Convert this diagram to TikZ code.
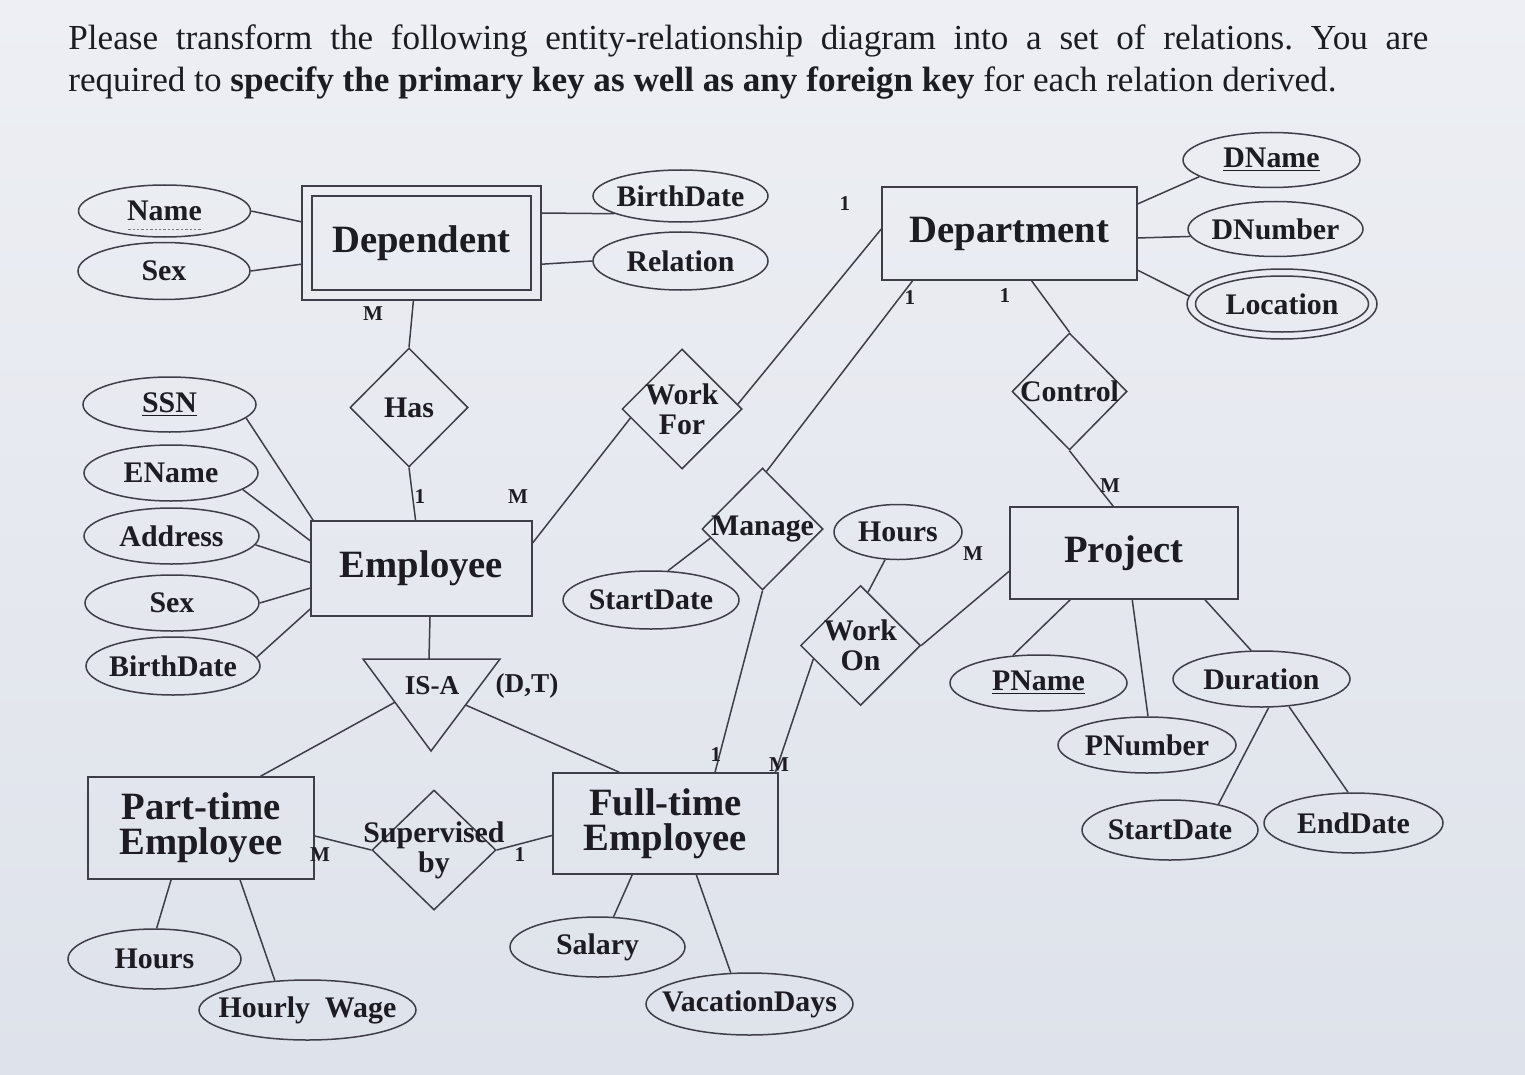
\documentclass[tikz,border=0pt]{standalone}
\usepackage{fontspec}
\setmainfont{Liberation Serif}
\usetikzlibrary{shapes.geometric, fit, calc}
\definecolor{ink}{RGB}{62,62,72}
\definecolor{txt}{RGB}{28,28,34}
\definecolor{bgtop}{RGB}{237,239,244}
\definecolor{bgbot}{RGB}{222,226,234}
\newcommand{\entfont}{\fontsize{22}{20}\selectfont\bfseries}
\newcommand{\attfont}{\fontsize{17}{17}\selectfont\bfseries}
\newcommand{\cardfont}{\fontsize{12}{12}\selectfont\bfseries}
\newcommand{\keyul}[1]{\underline{#1}}
\newcommand{\partialul}[1]{\setbox0\hbox{#1}\rlap{\raisebox{-5pt}[0pt][0pt]{\hbox to\wd0{\color{ink!70}\xleaders\hbox to 2.4pt{\hss\vrule height0.5pt width1.4pt\hss}\hfill}}}\box0}
\tikzset{
    erentity/.style={draw=ink, line width=0.3mm, rectangle, align=center, font=\entfont, text=txt, inner sep=0pt},
    erattr/.style={draw=ink, line width=0.3mm, ellipse, font=\attfont, text=txt, inner sep=-1.5mm, minimum width=35mm, minimum height=11.2mm},
    errel/.style={draw=ink, line width=0.3mm, diamond, align=center, font=\attfont, text=txt, inner sep=-2mm, minimum width=24mm, minimum height=24mm},
    erline/.style={draw=ink, line width=0.3mm},
    card/.style={font=\cardfont, text=txt, inner sep=0pt},
    isatext/.style={font=\fontsize{15.5}{15.5}\selectfont\bfseries, text=txt, inner sep=0pt},
}

\begin{document}
\begin{tikzpicture}[x=0.2mm, y=-0.2mm]
    \useasboundingbox (0,0) rectangle (1525,1074);
    \shade[top color=bgtop, bottom color=bgbot] (0,0) rectangle (1525,1074);

    % question text
    \node[anchor=north west, inner sep=0pt, text width=272mm, align=justify, font=\fontsize{20}{24}\selectfont\frenchspacing, text=txt] (title) at (68,24)
        {Please transform the following entity-relationship diagram into a set of relations. You are\linebreak required to \textbf{specify the primary key as well as any foreign key} for each relation derived.};

    % entities
    \node[erentity, minimum width=43.8mm, minimum height=18.8mm] (dep) at (421.5,243) {Dependent};
    \node[erentity, fit=(dep), inner sep=1.85mm] (depo) {};
    \node[erentity, minimum width=51mm, minimum height=18.6mm] (dept) at (1009.5,233.5) {Department};
    \node[erentity, minimum width=44.2mm, minimum height=19mm] (emp) at (421.5,568.5) {Employee};
    \node[erentity, minimum width=45.6mm, minimum height=18.4mm] (proj) at (1124,553) {Project};
    \node[erentity, minimum width=45.2mm, minimum height=20.4mm] (pt) at (201,828) {Part-time\\Employee};
    \node[erentity, minimum width=45mm, minimum height=20.2mm] (ft) at (665.5,823.5) {Full-time\\Employee};

    % relationships
    \node[errel, minimum width=23.6mm, minimum height=23.8mm] (has) at (409,407.5) {Has};
    \node[errel] (wf) at (682,409) {Work\\For};
    \node[errel, minimum width=23mm, minimum height=23.4mm] (ctl) at (1069.5,391.5) {Control};
    \node[errel, minimum width=24.2mm, minimum height=24.4mm] (man) at (762.5,529) {Manage};
    \node[errel] (won) at (860.5,645.5) {Work\\On};
    \node[errel, inner xsep=-8mm, minimum width=24.8mm] (sup) at (434,850) {Supervised\\by};

    % IS-A
    \coordinate (isaL) at (363,659);
    \coordinate (isaR) at (500,659);
    \coordinate (isaB) at (431,751);
    \draw[erline] (isaL) -- (isaR) -- (isaB) -- cycle;
    \node[isatext] (isa) at (432,686) {IS-A};
    \node[isatext] (dt) at (527,686) {(D,T)};
    \coordinate (isaT) at (429,659);
    \coordinate (isaLe) at ($(isaL)!0.47!(isaB)$);
    \coordinate (isaRe) at ($(isaR)!0.5!(isaB)$);

    % attributes
    \node[erattr, minimum width=34.4mm, minimum height=10.4mm] (name) at (164.5,211) {\partialul{Name}};
    \node[erattr, minimum width=34.4mm, minimum height=11.4mm] (sexd) at (164,271) {Sex};
    \node[erattr, minimum height=10.4mm] (bdd) at (680.5,196) {BirthDate};
    \node[erattr, minimum height=11.6mm] (reln) at (680.5,261) {Relation};
    \node[erattr, minimum width=35.4mm, minimum height=11mm] (dname) at (1271.5,160) {\keyul{DName}};
    \node[erattr, minimum height=11mm] (dnum) at (1275.5,229) {DNumber};
    \node[erattr, minimum width=34.6mm, minimum height=11.2mm] (loc) at (1282,304) {Location};
    \node[erattr, minimum width=38mm, minimum height=14mm] (loco) at (loc) {};
    \node[erattr, minimum width=34.6mm, minimum height=11mm] (ssn) at (169.5,404.5) {\keyul{SSN}};
    \node[erattr, minimum width=34.8mm] (ename) at (171,473) {EName};
    \node[erattr] (addr) at (171.5,536) {Address};
    \node[erattr, minimum width=34.8mm] (sexe) at (172,603) {Sex};
    \node[erattr, minimum width=34.8mm, minimum height=11.6mm] (bde) at (173,666) {BirthDate};
    \node[erattr, minimum width=35.2mm, minimum height=11.6mm] (sdm) at (651,600) {StartDate};
    \node[erattr, minimum width=25.6mm, minimum height=11mm] (hrw) at (898,532) {Hours};
    \node[erattr, minimum width=35.4mm] (pname) at (1038.5,683) {\keyul{PName}};
    \node[erattr, minimum width=35.4mm] (dur) at (1261.5,679) {Duration};
    \node[erattr, minimum width=35.6mm] (pnum) at (1147,745) {PNumber};
    \node[erattr, minimum width=35.2mm, minimum height=12mm] (sdp) at (1170,830) {StartDate};
    \node[erattr, minimum width=35.8mm, minimum height=12mm] (endd) at (1353.5,823) {EndDate};
    \node[erattr, minimum width=34.6mm, minimum height=12mm] (hrp) at (154.5,959) {Hours};
    \node[erattr, inner xsep=-5mm, minimum width=43.4mm, minimum height=12mm] (wage) at (307.5,1010) {Hourly\ \ Wage};
    \node[erattr, minimum height=12mm] (sal) at (597.5,947) {Salary};
    \node[erattr, inner xsep=-5mm, minimum width=41.4mm, minimum height=12.4mm] (vac) at (749.5,1004) {VacationDays};

    % connectors
    \draw[erline] (name.east) -- (depo.170);
    \draw[erline] (sexd.east) -- (depo.190);
    \draw[erline] (depo.14) -- (bdd.195);
    \draw[erline] (depo.-10) -- (reln.west);
    \draw[erline] (depo.262) -- (has.north);
    \draw[erline] (has.south) -- (emp.97);
    \draw[erline] (emp.13) -- (wf.190);
    \draw[erline] (wf.5) -- (dept.178);
    \draw[erline] (man.86) -- (dept.206);
    \draw[erline] (dept.-65) -- (ctl.north);
    \draw[erline] (ctl.south) -- (proj.103);
    \draw[erline] (man.190) -- (sdm.60);
    \draw[erline] (man.south) -- (ft.46);
    \draw[erline] (won.196) -- (ft.25);
    \draw[erline] (won.82) -- (hrw.245);
    \draw[erline] (won.east) -- (proj.189);
    \draw[erline] (proj.221) -- (pname.133);
    \draw[erline] (proj.-80) -- (pnum.88);
    \draw[erline] (proj.-30) -- (dur.110);
    \draw[erline] (dur.-76) -- (sdp.28);
    \draw[erline] (dur.-45) -- (endd.100);
    \draw[erline] (dept.13) -- (dname.193);
    \draw[erline] (dept.-2) -- (dnum.185);
    \draw[erline] (dept.-16) -- (loco.175);
    \draw[erline] (ssn.-10) -- (emp.156);
    \draw[erline] (ename.-13) -- (emp.166);
    \draw[erline] (addr.-6) -- (emp.177);
    \draw[erline] (sexe.east) -- (emp.190);
    \draw[erline] (bde.6) -- (emp.200);
    \draw[erline] (emp.-80) -- (isaT);
    \draw[erline] (isaLe) -- (pt.41);
    \draw[erline] (isaRe) -- (ft.132);
    \draw[erline] (pt.-4) -- (sup.west);
    \draw[erline] (sup.east) -- (ft.186);
    \draw[erline] (pt.240) -- (hrp.86);
    \draw[erline] (pt.-53) -- (wage.138);
    \draw[erline] (ft.237) -- (sal.62);
    \draw[erline] (ft.-59) -- (vac.121);

    % cardinalities
    \node[card] (cDH) at (373,314) {M};
    \node[card] (cHE) at (420,497) {1};
    \node[card] (cEW) at (518,497) {M};
    \node[card] (cWD) at (845,204) {1};
    \node[card] (cMD) at (910,298) {1};
    \node[card] (cDC) at (1005,296) {1};
    \node[card] (cCP) at (1110,486) {M};
    \node[card] (cMF) at (716,755) {1};
    \node[card] (cOF) at (779,765) {M};
    \node[card] (cOP) at (973,554) {M};
    \node[card] (cPS) at (320,855) {M};
    \node[card] (cSF) at (520,855) {1};
\end{tikzpicture}
\end{document}
